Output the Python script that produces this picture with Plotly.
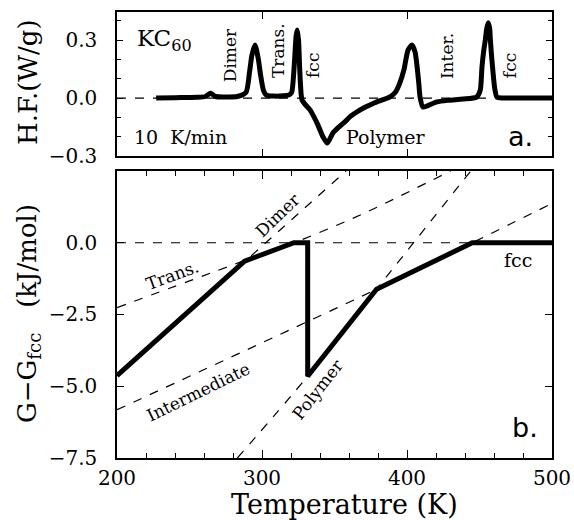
import plotly.graph_objects as go

# ---------- Panel a: DSC heat flow (10 K/min) ----------
dsc_T = [227, 240, 255, 261, 264.5, 268, 275, 283, 289, 291.5, 293, 295.2, 297.5, 299, 301, 303,
         308, 315, 319, 320.5, 322.5, 323.5, 324.3, 325.2, 326, 327, 327.6, 330, 333, 336, 338.6,
         342, 345, 349, 353, 357, 361, 365.5, 371, 376.6, 382, 388, 392, 395, 398, 400.7, 403.4,
         405.5, 407, 408.2, 409, 411, 414, 420.7, 428, 438.6, 448, 450.5, 451.7, 453, 454, 455,
         456, 457, 457.5, 458.3, 459, 460.5, 462, 466, 475, 490, 500]
dsc_HF = [0.0, 0.002, 0.004, 0.008, 0.025, 0.008, 0.006, 0.008, 0.03, 0.14, 0.22, 0.274, 0.2, 0.12, 0.04, 0.015,
          0.01, 0.012, 0.018, 0.03, 0.2, 0.32, 0.352, 0.3, 0.15, 0.02, -0.01, -0.035, -0.06, -0.1, -0.14,
          -0.2, -0.233, -0.18, -0.15, -0.124, -0.095, -0.072, -0.048, -0.028, -0.012, 0.005, 0.03, 0.077, 0.15, 0.248, 0.274,
          0.24, 0.16, 0.07, 0.005, -0.047, -0.04, -0.02, -0.012, -0.005, 0.005, 0.04, 0.16, 0.25, 0.3, 0.36,
          0.39, 0.36, 0.3, 0.22, 0.16, 0.05, 0.005, 0.0, 0.0, 0.0, 0.0]

# ---------- Panel b: G - Gfcc (kJ/mol) ----------
solid_T = [200, 288, 322, 331.5, 331.5, 379, 445, 500]
solid_G = [-4.63, -0.64, 0.0, 0.0, -4.65, -1.62, 0.0, 0.0]

dimer_T = [200, 288, 358]
dimer_G = [-4.63, -0.64, 2.5]

trans_T = [200, 250, 288, 322, 358, 381, 430]
trans_G = [-2.26, -1.33, -0.62, 0.0, 0.75, 1.28, 2.5]

inter_T = [200, 379, 445, 500]
inter_G = [-5.82, -1.62, 0.0, 1.37]

poly_T = [283, 331.5, 379, 444]
poly_G = [-7.5, -4.65, -1.62, 2.5]

fcc_T = [200, 500]
fcc_G = [0.0, 0.0]

top_yticks = [-0.3, 0.0, 0.3]
top_yticktext = ["\u22120.3", "0.0", "0.3"]
bot_yticks = [-7.5, -5.0, -2.5, 0.0]
bot_yticktext = ["\u22127.5", "\u22125.0", "\u22122.5", "0.0"]

SERIF = "DejaVu Serif, serif"
SANS = "DejaVu Sans, sans-serif"

fig = go.Figure()

dash_style = dict(color="black", width=1.2, dash="dash")

# top panel
fig.add_trace(go.Scatter(x=fcc_T, y=fcc_G, mode="lines", line=dash_style,
                         xaxis="x", yaxis="y", showlegend=False, hoverinfo="skip"))
fig.add_trace(go.Scatter(x=dsc_T, y=dsc_HF, mode="lines",
                         line=dict(color="black", width=5, shape="spline", smoothing=0.6),
                         xaxis="x", yaxis="y", showlegend=False))

# bottom panel dashed lines
for tx, gy, shp in [(fcc_T, fcc_G, "linear"), (dimer_T, dimer_G, "linear"),
                    (trans_T, trans_G, "spline"), (inter_T, inter_G, "spline"),
                    (poly_T, poly_G, "spline")]:
    fig.add_trace(go.Scatter(x=tx, y=gy, mode="lines",
                             line=dict(color="black", width=1.2, dash="dash", shape=shp),
                             xaxis="x2", yaxis="y2", showlegend=False, hoverinfo="skip"))

fig.add_trace(go.Scatter(x=solid_T, y=solid_G, mode="lines",
                         line=dict(color="black", width=5),
                         xaxis="x2", yaxis="y2", showlegend=False))

axis_common = dict(showline=True, linecolor="black", linewidth=1.5, mirror="ticks",
                   ticks="inside", tickcolor="black", tickwidth=1.2,
                   showgrid=False, zeroline=False, automargin=False,
                   tickfont=dict(family=SERIF, size=20, color="black"))

fig.update_layout(
    width=574, height=520,
    font=dict(family=SERIF, color="black"),
    margin=dict(l=117, r=22, t=12, b=62),
    paper_bgcolor="white", plot_bgcolor="white",
    xaxis=dict(domain=[0, 1], anchor="y", range=[200, 500], tickmode="array",
               tickvals=[300, 400], showticklabels=False, ticklen=7, **axis_common),
    yaxis=dict(domain=[0.677, 1], anchor="x", range=[-0.3, 0.445], tickmode="array",
               tickvals=top_yticks, ticktext=top_yticktext, ticklen=6, ticklabelstandoff=14,
               minor=dict(tickmode="linear", tick0=0, dtick=0.1, ticklen=4, ticks="inside",
                          tickcolor="black", tickwidth=1.2),
               **axis_common),
    xaxis2=dict(domain=[0, 1], anchor="y2", range=[200, 500], tickmode="linear",
                tick0=200, dtick=100, ticklen=8, ticklabelstandoff=1,
                minor=dict(tickmode="linear", tick0=200, dtick=20, ticklen=5, ticks="inside",
                           tickcolor="black", tickwidth=1.2),
                **axis_common),
    yaxis2=dict(domain=[0, 0.6435], anchor="x2", range=[-7.5, 2.5], tickmode="array",
                tickvals=bot_yticks, ticktext=bot_yticktext, ticklen=7, ticklabelstandoff=14,
                **axis_common),
)

ann = []
def add(text, x, y, xref="x", yref="y", size=17, angle=0, family=SERIF):
    ann.append(dict(text=text, x=x, y=y, xref=xref, yref=yref, showarrow=False,
                    textangle=angle, font=dict(family=family, size=size, color="black"),
                    xanchor="center", yanchor="middle"))

# top panel labels
add("KC<sub>60</sub>", 233, 0.30, size=23)
add("10\u00a0\u00a0K/min", 244, -0.2, size=19)
add("Dimer", 278, 0.222, angle=-90)
add("Trans.", 311, 0.248, angle=-90)
add("fcc", 335, 0.17, angle=-90)
add("Polymer", 385.5, -0.2, size=19)
add("Inter.", 427.6, 0.217, angle=-90)
add("fcc", 471, 0.17, angle=-90)
add("a.", 478, -0.2, size=27, family=SANS)

# bottom panel labels
add("Trans.", 238.6, -1.13, xref="x2", yref="y2", angle=-20)
add("Dimer", 311, 0.95, xref="x2", yref="y2", angle=-44)
add("Intermediate", 255.9, -5.19, xref="x2", yref="y2", angle=-26)
add("Polymer", 338.6, -5.09, xref="x2", yref="y2", angle=-52)
add("fcc", 476.6, -0.61, xref="x2", yref="y2", size=19)
add("b.", 481.4, -6.44, xref="x2", yref="y2", size=27, family=SANS)

# axis titles
add("Temperature (K)", 0.522, -0.105, xref="paper", yref="paper", size=27)
add("H.F.(W/g)", -0.2046, 0.843, xref="paper", yref="paper", size=26, angle=-90)
add("G\u2212G<sub>fcc</sub>\u00a0\u00a0\u00a0(kJ/mol)", -0.2046, 0.325, xref="paper", yref="paper",
    size=26, angle=-90)

fig.update_layout(annotations=ann)

fig.write_html("out.html")
